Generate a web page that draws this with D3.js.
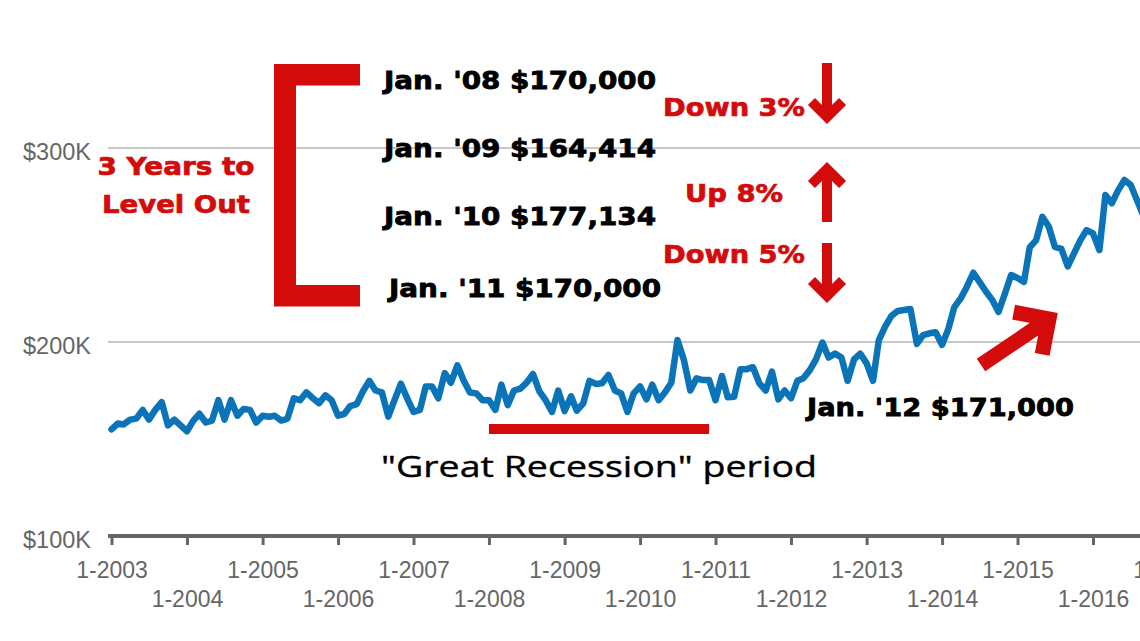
<!DOCTYPE html>
<html>
<head>
<meta charset="utf-8">
<script src="https://cdn.jsdelivr.net/npm/d3@7"></script>
<style>
html, body { margin: 0; padding: 0; background: #fff; }
svg { display: block; }
</style>
</head>
<body>
<script>
(function(){

//monthly median price in $K, starting Jan 2003
var firstMonth = "2003-01";
var priceK = [
    155, 158, 157.5, 160, 160.5, 165, 160, 165, 169, 157, 160, 157,
    154, 159.5, 163, 158.5, 159.5, 170, 160, 170, 162, 165.5, 165, 158.5,
    162, 161.5, 162, 159.5, 160.5, 171, 170, 174, 171, 168.5, 172.5, 170,
    162, 163, 167, 168, 174.5, 180, 175, 174, 161.5, 170, 178.5, 171,
    164, 165, 177, 177, 171, 184, 179, 188, 180, 174, 173.5, 170,
    170, 165, 178, 167.5, 175, 176, 179, 183.5, 174.5, 170, 164, 175,
    164.4, 172, 164.6, 168.4, 180, 178.4, 178.7, 183, 175, 173.5, 164, 173.5,
    177.1, 170.4, 178, 170, 174, 179, 201, 190.7, 175, 181.3, 180.4, 180.4,
    170, 182.5, 171.5, 171.8, 186, 186, 187, 178.7, 175, 184.7, 170.4, 175,
    171, 180, 181.3, 185.5, 191, 199.7, 192, 194, 192, 180, 191, 194,
    189, 180, 201, 208, 213.5, 216, 216.5, 217, 199, 203.5, 204.5, 205,
    198.5, 207, 218, 222.5, 228.5, 235.7, 231, 226, 221.6, 215.5, 225, 234.5,
    233, 231, 248.8, 252.5, 264.5, 259.5, 249, 248, 239, 245.7, 252.5, 257.7,
    256, 247.4, 275.8, 271.5, 278, 283.5, 281, 273, 265
];

var yTicks = [100, 200, 300];
var yGrid = [200, 300];
var tickYears = [2003, 2004, 2005, 2006, 2007, 2008, 2009, 2010, 2011, 2012, 2013, 2014, 2015, 2016, 2017];

//annotation texts
var bracketTitle = ["3 Years to", "Level Out"];
var bracketLabels = ["Jan. '08 $170,000", "Jan. '09 $164,414", "Jan. '10 $177,134", "Jan. '11 $170,000"];
var changeLabels = ["Down 3%", "Up 8%", "Down 5%"];
var changeDirs = ["down", "up", "down"];
var recessionSpan = ["2008-01", "2010-12"];
var recessionLabel = "\"Great Recession\" period";
var recoveryLabel = "Jan. '12 $171,000";

var width = 1140,
    height = 641;
var red = "#d30b0b",
    blue = "#0b73b7",
    axisGrey = "#666";

var parseMonth = d3.timeParse("%Y-%m");
var start = parseMonth(firstMonth);

var data = priceK.map(function(v, i){
    return {date: d3.timeMonth.offset(start, i), value: v};
});

var svg = d3.select("body")
    .append("svg")
    .attr("width", width)
    .attr("height", height);

var x = d3.scaleTime()
    .domain([new Date(2003, 0, 1), new Date(2016, 0, 1)])
    .range([111.5, 1093]);

var y = d3.scaleLinear()
    .domain([100, 300])
    .range([536, 148]);

//gridlines
svg.selectAll(".grid")
    .data(yGrid)
    .enter()
    .append("line")
    .attr("class", "grid")
    .attr("x1", 108)
    .attr("x2", width)
    .attr("y1", function(d){ return y(d); })
    .attr("y2", function(d){ return y(d); })
    .style("stroke", "#c8c8c8")
    .style("stroke-width", 2);

//y labels
svg.selectAll(".ylab")
    .data(yTicks)
    .enter()
    .append("text")
    .attr("class", "ylab")
    .attr("x", 91)
    .attr("y", function(d){ return y(d) + 12; })
    .attr("text-anchor", "end")
    .style("font-family", "Liberation Sans, Arial, sans-serif")
    .style("font-size", "23.5px")
    .style("fill", axisGrey)
    .text(function(d){ return "$" + d + "K"; });

//x axis
var xAxis = d3.axisBottom(x)
    .tickValues(tickYears.map(function(yr){ return new Date(yr, 0, 1); }))
    .tickSize(9)
    .tickSizeOuter(0)
    .tickFormat(function(d){ return "1-" + d.getFullYear(); });

var gx = svg.append("g")
    .attr("transform", "translate(0," + y(100) + ")")
    .call(xAxis);

gx.select(".domain").remove();
gx.insert("line", ":first-child")
    .attr("x1", 108)
    .attr("x2", width)
    .style("stroke", axisGrey)
    .style("stroke-width", 4);

gx.selectAll(".tick line")
    .style("stroke", axisGrey)
    .style("stroke-width", 3);

gx.selectAll(".tick text")
    .attr("y", function(d, i){ return i % 2 === 0 ? 26 : 55; })
    .attr("dy", "0.71em")
    .style("font-family", "Liberation Sans, Arial, sans-serif")
    .style("font-size", "23px")
    .style("fill", axisGrey);

//price line
var line = d3.line()
    .x(function(d){ return x(d.date); })
    .y(function(d){ return y(d.value); });

svg.append("path")
    .datum(data)
    .attr("d", line)
    .style("fill", "none")
    .style("stroke", blue)
    .style("stroke-width", 6.5)
    .style("stroke-linejoin", "round")
    .style("stroke-linecap", "round");

//recession bar
svg.append("rect")
    .attr("x", x(parseMonth(recessionSpan[0])))
    .attr("width", x(parseMonth(recessionSpan[1])) - x(parseMonth(recessionSpan[0])))
    .attr("y", 424)
    .attr("height", 10)
    .style("fill", red);

svg.append("text")
    .attr("x", 381)
    .attr("y", 477)
    .attr("textLength", 436)
    .attr("lengthAdjust", "spacingAndGlyphs")
    .style("font-family", "Open Sans, sans-serif")
    .style("font-size", "30px")
    .style("fill", "#000")
    .style("stroke", "#000")
    .style("stroke-width", 0.4)
    .text(recessionLabel);

//bracket
svg.append("path")
    .attr("d", "M360,64H274V306.5H360V285H296V85.5H360Z")
    .style("fill", red);

svg.selectAll(".btitle")
    .data(bracketTitle)
    .enter()
    .append("text")
    .attr("class", "btitle")
    .attr("x", 176)
    .attr("y", function(d, i){ return 175 + i * 38; })
    .attr("text-anchor", "middle")
    .attr("textLength", function(d, i){ return i === 0 ? 157 : 148; })
    .attr("lengthAdjust", "spacingAndGlyphs")
    .style("font-family", "DejaVu Sans, sans-serif")
    .style("font-weight", "bold")
    .style("font-size", "24px")
    .style("fill", red)
    .style("stroke", red)
    .style("stroke-width", 0.7)
    .text(function(d){ return d; });

var labelY = [80, 148, 216, 288];
svg.selectAll(".blabel")
    .data(bracketLabels)
    .enter()
    .append("text")
    .attr("class", "blabel")
    .attr("x", function(d, i){ return i === 3 ? 389 : 384; })
    .attr("y", function(d, i){ return labelY[i] + 9; })
    .attr("textLength", 272)
    .attr("lengthAdjust", "spacingAndGlyphs")
    .style("font-family", "DejaVu Sans, sans-serif")
    .style("font-weight", "bold")
    .style("font-size", "25px")
    .style("fill", "#000")
    .style("stroke", "#000")
    .style("stroke-width", 0.8)
    .text(function(d){ return d; });

//percentage changes
var changeY = [107, 193, 254];
svg.selectAll(".change")
    .data(changeLabels)
    .enter()
    .append("text")
    .attr("class", "change")
    .attr("x", 734)
    .attr("y", function(d, i){ return changeY[i] + 9; })
    .attr("text-anchor", "middle")
    .attr("textLength", function(d, i){ return changeDirs[i] === "up" ? 98 : 142; })
    .attr("lengthAdjust", "spacingAndGlyphs")
    .style("font-family", "DejaVu Sans, sans-serif")
    .style("font-weight", "bold")
    .style("font-size", "24px")
    .style("fill", red)
    .style("stroke", red)
    .style("stroke-width", 0.7)
    .text(function(d){ return d; });

function arrowPath(x1, y1, x2, y2, h){
    var a = Math.atan2(y2 - y1, x2 - x1);
    var p1 = [x2 - h * Math.cos(a - Math.PI / 4), y2 - h * Math.sin(a - Math.PI / 4)];
    var p2 = [x2 - h * Math.cos(a + Math.PI / 4), y2 - h * Math.sin(a + Math.PI / 4)];
    return "M" + x1 + "," + y1 + "L" + x2 + "," + y2 +
        "M" + p1[0] + "," + p1[1] + "L" + x2 + "," + y2 + "L" + p2[0] + "," + p2[1];
}

var arrows = [
    [827, 63, 827, 117],
    [827, 222, 827, 169],
    [827, 243, 827, 296]
];
svg.selectAll(".varrow")
    .data(arrows)
    .enter()
    .append("path")
    .attr("class", "varrow")
    .attr("d", function(d){ return arrowPath(d[0], d[1], d[2], d[3], 22); })
    .style("fill", "none")
    .style("stroke", red)
    .style("stroke-width", 10)
    .style("stroke-linejoin", "miter");

svg.append("path")
    .attr("d", arrowPath(981, 365, 1049, 319, 36))
    .style("fill", "none")
    .style("stroke", red)
    .style("stroke-width", 15)
    .style("stroke-linejoin", "miter");

svg.append("text")
    .attr("x", 807)
    .attr("y", 416)
    .attr("textLength", 267)
    .attr("lengthAdjust", "spacingAndGlyphs")
    .style("font-family", "DejaVu Sans, sans-serif")
    .style("font-weight", "bold")
    .style("font-size", "25px")
    .style("fill", "#000")
    .style("stroke", "#000")
    .style("stroke-width", 0.8)
    .text(recoveryLabel);

})();
</script>
</body>
</html>
